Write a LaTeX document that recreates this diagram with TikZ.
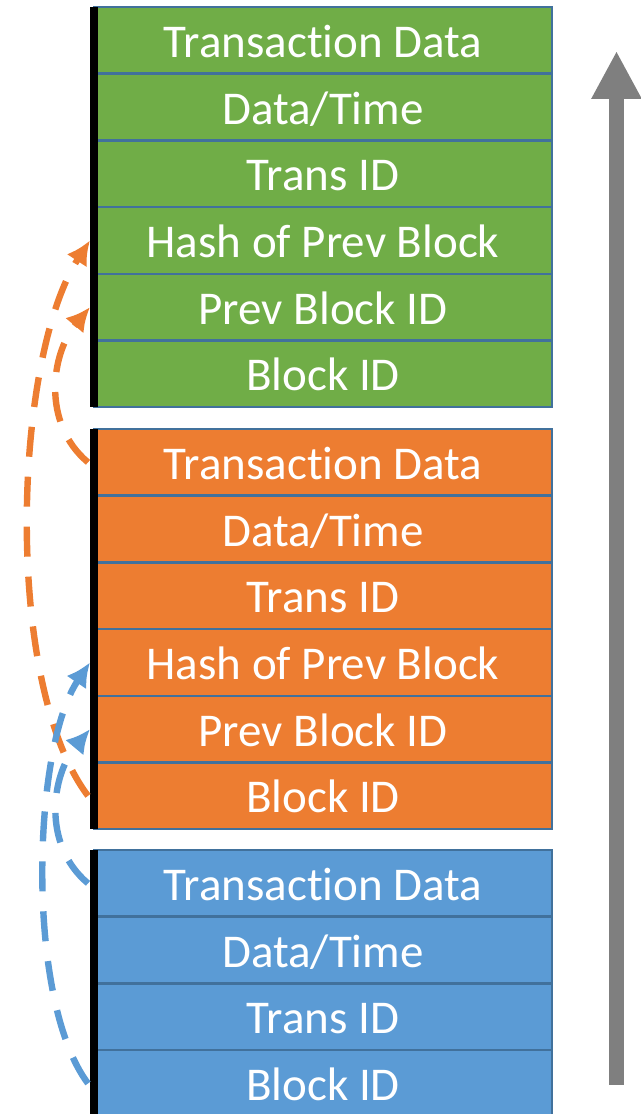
\documentclass[tikz,border=0pt]{standalone}
\usepackage{fontspec}
\setmainfont{Carlito}[RawFeature={-liga;-clig;-calt;-dlig}]
\usepackage{tikz}
\usetikzlibrary{arrows.meta,positioning}
\definecolor{blockgreen}{HTML}{70AD47}
\definecolor{blockorange}{HTML}{ED7D31}
\definecolor{blockblue}{HTML}{5B9BD5}
\definecolor{rowline}{HTML}{41719C}
\definecolor{timegray}{HTML}{7F7F7F}

\begin{document}
\begin{tikzpicture}[x=0.5pt, y=0.5pt,
	rowbox/.style={font=\fontsize{23.5}{28}\selectfont, text=white, draw=rowline, line width=1.2pt, minimum width=229pt, minimum height=33.35pt, text height=20pt, text depth=3pt, inner sep=0, outer sep=0, align=center},
	greenrow/.style={rowbox, fill=blockgreen},
	orangerow/.style={rowbox, fill=blockorange},
	bluerow/.style={rowbox, fill=blockblue},
	bar/.style={line width=4pt, black},
	link/.style={dash pattern=on 15pt off 10pt, line width=3.2pt, -{Latex[length=12pt,width=12pt]}}
]
\useasboundingbox (0,0) rectangle (641,1114);

\node[greenrow] (g1) at (323, 1073.65) {Transaction Data};
\node[greenrow, below=0pt of g1] (g2) {Data/Time};
\node[greenrow, below=0pt of g2] (g3) {Trans ID};
\node[greenrow, below=0pt of g3] (g4) {Hash of Prev Block};
\node[greenrow, below=0pt of g4] (g5) {Prev Block ID};
\node[greenrow, below=0pt of g5] (g6) {Block ID};

\node[orangerow] (o1) at (323, 651.65) {Transaction Data};
\node[orangerow, below=0pt of o1] (o2) {Data/Time};
\node[orangerow, below=0pt of o2] (o3) {Trans ID};
\node[orangerow, below=0pt of o3] (o4) {Hash of Prev Block};
\node[orangerow, below=0pt of o4] (o5) {Prev Block ID};
\node[orangerow, below=0pt of o5] (o6) {Block ID};

\node[bluerow] (b1) at (323, 230.65) {Transaction Data};
\node[bluerow, below=0pt of b1] (b2) {Data/Time};
\node[bluerow, below=0pt of b2] (b3) {Trans ID};
\node[bluerow, below=0pt of b3] (b4) {Block ID};

\draw[bar] (g1.north west) -- (g6.south west);
\draw[bar] (o1.north west) -- (o6.south west);
\draw[bar] (b1.north west) -- (b4.south west);

\draw[link, blockorange] ([xshift=-3pt]o1.west) to[out=140, in=230] ([xshift=-2pt]g5.west);
\draw[link, blockorange, looseness=0.65] ([xshift=-3pt]o6.west) to[out=127, in=237] ([xshift=-2pt]g4.west);
\draw[link, blockblue] ([xshift=-3pt]b1.west) to[out=140, in=230] ([xshift=-2pt]o5.west);
\draw[link, blockblue, looseness=0.63] ([xshift=-3pt]b4.west) to[out=127, in=236] ([xshift=-2pt]o4.west);

\coordinate (tbase) at (616.5, 29);
\coordinate (ttip) at (616.5, 1063);
\draw[line width=7.5pt, timegray, -{Triangle[length=24pt, width=23.5pt]}] (tbase) -- (ttip);
\end{tikzpicture}
\end{document}
